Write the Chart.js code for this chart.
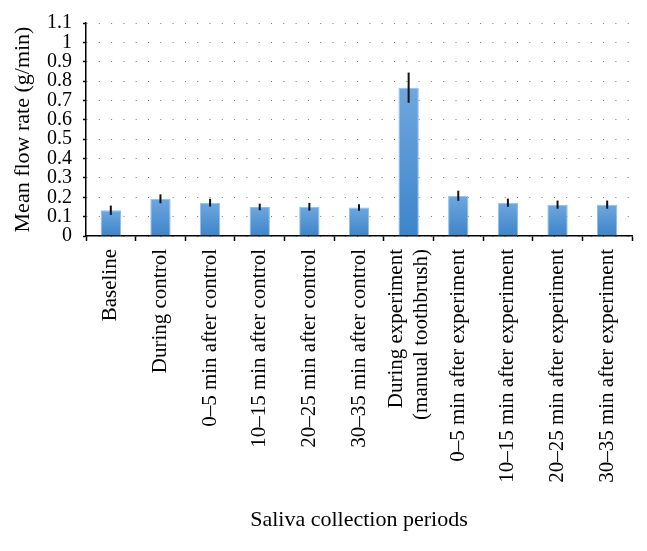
<!DOCTYPE html>
<html>
<head>
<meta charset="utf-8">
<script src="https://cdn.jsdelivr.net/npm/chart.js@4/dist/chart.umd.min.js"></script>
<style>
  html, body { margin: 0; padding: 0; background: #ffffff; }
  #wrap { width: 647px; height: 551px; position: relative; }
</style>
</head>
<body>
<div id="wrap"><canvas id="c" width="647" height="551"></canvas></div>
<script>
const categories = [
  "Baseline",
  "During control",
  "0\u20135 min after control",
  "10\u201315 min after control",
  "20\u201325 min after control",
  "30\u201335 min after control",
  ["During experiment", "(manual toothbrush)"],
  "0\u20135 min after experiment",
  "10\u201315 min after experiment",
  "20\u201325 min after experiment",
  "30\u201335 min after experiment"
];
const meanFlow = [0.133, 0.192, 0.172, 0.150, 0.151, 0.147, 0.766, 0.208, 0.172, 0.162, 0.162];
const errFlow  = [0.024, 0.023, 0.020, 0.017, 0.020, 0.017, 0.078, 0.026, 0.021, 0.021, 0.021];
const yTicks = [0, 0.1, 0.2, 0.3, 0.4, 0.5, 0.6, 0.7, 0.8, 0.9, 1, 1.1];

const SERIF = "'Liberation Serif', 'Times New Roman', serif";

const gradientPlugin = {
  id: 'barGradient',
  beforeDatasetsDraw(chart) {
    const ctx = chart.ctx;
    const meta = chart.getDatasetMeta(0);
    meta.data.forEach(el => {
      const g = ctx.createLinearGradient(0, el.y, 0, el.base);
      g.addColorStop(0, '#6fa7de');
      g.addColorStop(1, '#3d85cb');
      el.options.backgroundColor = g;
    });
  }
};

const errorBarPlugin = {
  id: 'errorBars',
  afterDatasetsDraw(chart) {
    const ctx = chart.ctx;
    const y = chart.scales.y;
    const meta = chart.getDatasetMeta(0);
    ctx.save();
    ctx.strokeStyle = '#111111';
    ctx.lineWidth = 2;
    meta.data.forEach((el, i) => {
      const v = meanFlow[i], e = errFlow[i];
      ctx.beginPath();
      ctx.moveTo(el.x, y.getPixelForValue(v + e));
      ctx.lineTo(el.x, y.getPixelForValue(v - e));
      ctx.stroke();
    });
    ctx.restore();
  }
};

// center the two-line label on its tick like the reference
const labelCenterPlugin = {
  id: 'labelCenter',
  beforeDraw(chart) {
    const xs = chart.scales.x;
    const items = xs.getLabelItems();
    items.forEach(it => {
      if (Array.isArray(it.label) && !it._shifted) {
        const lh = it.font.lineHeight;
        it.options.translation = [it.options.translation[0] - lh * (it.label.length - 1) / 2, it.options.translation[1]];
        it._shifted = true;
      }
    });
  }
};

new Chart(document.getElementById('c'), {
  type: 'bar',
  data: {
    labels: categories,
    datasets: [{
      data: meanFlow,
      backgroundColor: () => '#5596d5',
      borderColor: '#92bde8',
      borderWidth: 1,
      categoryPercentage: 0.82,
      barPercentage: 0.5
    }]
  },
  options: {
    responsive: false,
    animation: false,
    devicePixelRatio: 1,
    layout: { padding: { left: 10, top: 20, right: 15, bottom: 18 } },
    plugins: { legend: { display: false }, tooltip: { enabled: false } },
    scales: {
      x: {
        offset: true,
        grid: { display: true, drawOnChartArea: false, drawTicks: true, tickLength: 5, tickColor: '#000000', tickWidth: 1.5, offset: true },
        border: { display: true, color: '#000000', width: 1.5 },
        ticks: {
          autoSkip: false, minRotation: 90, maxRotation: 90, padding: 8,
          color: '#000000', font: { family: SERIF, size: 21 }
        },
        title: { display: true, text: 'Saliva collection periods', color: '#000000', padding: 0, font: { family: SERIF, size: 22 } },
        afterFit(s) { s.height = 297; }
      },
      y: {
        min: 0, max: 1.1,
        afterBuildTicks(s) { s.ticks = yTicks.map(v => ({ value: v })); },
        grid: { color: '#777777', lineWidth: 1, drawTicks: true, tickLength: 3, tickColor: '#000000', tickWidth: 1.5, tickBorderDash: [] },
        border: { display: true, color: '#000000', width: 1.5, dash: [1, 11.3] },
        ticks: {
          autoSkip: false, padding: 11, color: '#000000', font: { family: SERIF, size: 20 },
          callback: (v) => String(Math.round(v * 10) / 10)
        },
        title: { display: true, text: 'Mean flow rate (g/min)', color: '#000000', padding: 0, font: { family: SERIF, size: 22 } },
        afterFit(s) { s.width = 76; }
      }
    }
  },
  plugins: [gradientPlugin, errorBarPlugin, labelCenterPlugin]
});
</script>
</body>
</html>
